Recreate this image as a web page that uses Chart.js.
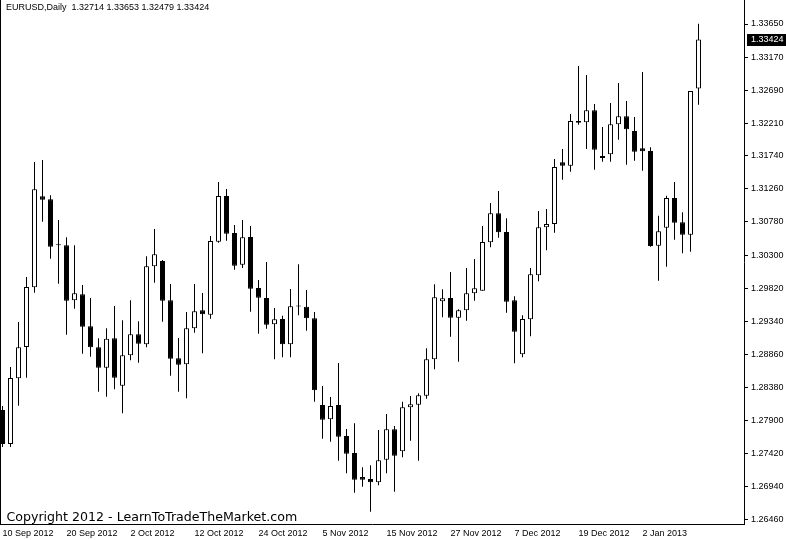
<!DOCTYPE html>
<html><head><meta charset="utf-8">
<script src="https://cdn.jsdelivr.net/npm/chart.js@4.4.1/dist/chart.umd.min.js"></script>
<style>html,body{margin:0;padding:0;background:#fff;}canvas{display:block;}</style>
</head><body>
<canvas id="c" width="786" height="540"></canvas>
<script>
const symbolName = 'EURUSD,Daily';
const copyrightText = 'Copyright 2012 - LearnToTradeTheMarket.com';

const dates = [
'2012-09-10','2012-09-11','2012-09-12','2012-09-13','2012-09-14','2012-09-17','2012-09-18','2012-09-19','2012-09-20','2012-09-21','2012-09-24','2012-09-25','2012-09-26','2012-09-27','2012-09-28',
'2012-10-01','2012-10-02','2012-10-03','2012-10-04','2012-10-05','2012-10-08','2012-10-09','2012-10-10','2012-10-11','2012-10-12','2012-10-15','2012-10-16','2012-10-17','2012-10-18','2012-10-19','2012-10-22','2012-10-23','2012-10-24','2012-10-25','2012-10-26','2012-10-29','2012-10-30','2012-10-31',
'2012-11-01','2012-11-02','2012-11-05','2012-11-06','2012-11-07','2012-11-08','2012-11-09','2012-11-12','2012-11-13','2012-11-14','2012-11-15','2012-11-16','2012-11-19','2012-11-20','2012-11-21','2012-11-22','2012-11-23','2012-11-26','2012-11-27','2012-11-28','2012-11-29','2012-11-30',
'2012-12-03','2012-12-04','2012-12-05','2012-12-06','2012-12-07','2012-12-10','2012-12-11','2012-12-12','2012-12-13','2012-12-14','2012-12-17','2012-12-18','2012-12-19','2012-12-20','2012-12-21','2012-12-24','2012-12-26','2012-12-27','2012-12-28','2012-12-31',
'2013-01-02','2013-01-03','2013-01-04','2013-01-07','2013-01-08','2013-01-09','2013-01-10','2013-01-11'
];

const xTickIndex = [0, 8, 16, 24, 32, 40, 48, 56, 64, 72, 80];
const xTickLabels = ['10 Sep 2012','20 Sep 2012','2 Oct 2012','12 Oct 2012','24 Oct 2012','5 Nov 2012','15 Nov 2012','27 Nov 2012','7 Dec 2012','19 Dec 2012','2 Jan 2013'];

const yTickValues = [1.26460,1.26940,1.27420,1.27900,1.28380,1.28860,1.29340,1.29820,1.30300,1.30780,1.31260,1.31740,1.32210,1.32690,1.33170,1.33650];

const opens = [
1.28055,1.27562,1.28514,1.28968,1.29833,1.31152,1.31109,1.30442,1.30442,1.29645,
1.29732,1.29268,1.28963,1.28668,1.29094,1.28407,1.28848,1.29152,1.29007,1.30138,
1.30215,1.29645,1.28804,1.28717,1.29239,1.29500,1.29436,1.30494,1.31157,1.30620,
1.30161,1.30562,1.29823,1.29678,1.29297,1.29374,1.29007,1.29556,1.29552,1.29384,
1.28127,1.27920,1.28127,1.27678,1.27431,1.27083,1.27054,1.27007,1.27334,1.27775,
1.27456,1.28094,1.28131,1.28262,1.28790,1.29630,1.29678,1.29393,1.29500,1.29746,
1.29784,1.30486,1.30906,1.30635,1.29645,1.28862,1.29369,1.30007,1.30703,1.30751,
1.31645,1.31596,1.32244,1.32225,1.32399,1.31737,1.31761,1.32196,1.32312,1.32099,
1.31848,1.31809,1.30436,1.30697,1.31128,1.30776,1.30596,1.32714
];
const highs = [
1.28113,1.28678,1.29330,1.29983,1.31650,1.31679,1.31167,1.30809,1.30558,1.30442,
1.29867,1.29678,1.29094,1.29239,1.29562,1.29355,1.29645,1.29340,1.30283,1.30678,
1.30229,1.29881,1.29098,1.29475,1.29881,1.29751,1.30577,1.31360,1.31258,1.30736,
1.30809,1.30722,1.29939,1.30200,1.29533,1.29422,1.29809,1.30167,1.29794,1.29475,
1.28403,1.28243,1.28736,1.27779,1.27862,1.27224,1.27253,1.27765,1.27997,1.27823,
1.28175,1.28258,1.28297,1.28949,1.29877,1.29804,1.30055,1.29514,1.30113,1.30243,
1.30722,1.31055,1.31229,1.30833,1.29703,1.29427,1.30113,1.30939,1.30968,1.31693,
1.31838,1.32345,1.33041,1.32911,1.32490,1.32157,1.32505,1.32795,1.32534,1.32302,
1.32954,1.31863,1.30871,1.31161,1.31360,1.30920,1.32679,1.33653
];
const lows = [
1.27518,1.27518,1.28117,1.28523,1.29755,1.30784,1.30248,1.29885,1.29146,1.29523,
1.28871,1.28827,1.28320,1.28247,1.28355,1.28007,1.28775,1.28740,1.28963,1.29900,
1.29335,1.28552,1.28320,1.28224,1.29175,1.28877,1.29378,1.30480,1.30509,1.30088,
1.30113,1.29480,1.29161,1.29233,1.28790,1.28819,1.28819,1.29427,1.29204,1.28175,
1.27639,1.27595,1.27320,1.27137,1.26856,1.26943,1.26580,1.26963,1.27137,1.26870,
1.27369,1.27610,1.27320,1.28218,1.28645,1.29398,1.29117,1.28755,1.29349,1.29639,
1.29784,1.30413,1.30552,1.29465,1.28732,1.28819,1.29123,1.29920,1.30370,1.30625,
1.31393,1.31509,1.32190,1.31838,1.31538,1.31654,1.31654,1.31973,1.31610,1.31668,
1.31524,1.30422,1.29929,1.30132,1.30523,1.30326,1.30349,1.32479
];
const closes = [
1.27562,1.28518,1.28963,1.29838,1.31254,1.31103,1.30422,1.30442,1.29639,1.29746,
1.29262,1.28963,1.28668,1.29088,1.28523,1.28848,1.29152,1.29016,1.30138,1.30312,
1.29639,1.28798,1.28711,1.29239,1.29485,1.29442,1.30504,1.31157,1.30610,1.30146,
1.30558,1.29813,1.29683,1.29291,1.29369,1.29007,1.29558,1.29556,1.29384,1.28340,
1.27914,1.28113,1.27668,1.27421,1.27044,1.27044,1.27007,1.27325,1.27775,1.27392,
1.28094,1.28137,1.28268,1.28790,1.29688,1.29674,1.29393,1.29500,1.29746,1.29819,
1.30490,1.30906,1.30631,1.29625,1.29190,1.29374,1.30022,1.30703,1.30751,1.31577,
1.31596,1.32244,1.32219,1.32399,1.31828,1.31708,1.32196,1.32312,1.32124,1.31799,
1.31805,1.30432,1.30645,1.31128,1.30770,1.30596,1.32679,1.33424
];

const bodyData = dates.map((d, i) => ({x: i, y: [opens[i], closes[i]]}));
const wickData = dates.map((d, i) => ({x: i, y: [lows[i], highs[i]]}));
const bodyColors = dates.map((d, i) => closes[i] >= opens[i] ? '#ffffff' : '#000000');

const last = dates.length - 1;
const headerText = symbolName + '  ' + [opens[last], highs[last], lows[last], closes[last]].map(v => v.toFixed(5)).join(' ');

const overlay = {
  id: 'overlay',
  afterDraw(chart) {
    const {ctx, chartArea, scales} = chart;
    ctx.save();
    ctx.strokeStyle = '#000';
    ctx.lineWidth = 1;
    ctx.beginPath();
    ctx.moveTo(0.5, 0);
    ctx.lineTo(0.5, chartArea.bottom);
    ctx.stroke();
    ctx.fillStyle = '#000';
    ctx.textAlign = 'left';
    ctx.textBaseline = 'middle';
    ctx.font = '9px "Liberation Sans"';
    ctx.fillText(headerText, 6, 8);
    ctx.font = '12.6px "DejaVu Sans"';
    ctx.fillText(copyrightText, 6.5, 518);
    const py = Math.round(scales.y.getPixelForValue(closes[last]));
    ctx.fillStyle = '#000';
    ctx.fillRect(747, py - 6, 39, 12);
    ctx.fillStyle = '#fff';
    ctx.font = '9px "Liberation Sans"';
    ctx.fillText(closes[last].toFixed(5), 751, py);
    ctx.restore();
  }
};

new Chart(document.getElementById('c'), {
  type: 'bar',
  data: {
    datasets: [
      {
        label: 'body',
        data: bodyData,
        backgroundColor: bodyColors,
        borderColor: '#000',
        borderWidth: 1,
        borderSkipped: false,
        barThickness: 5,
        minBarLength: 1,
        grouped: false,
        inflateAmount: 0,
        order: 0,
        clip: false
      },
      {
        label: 'wick',
        data: wickData,
        backgroundColor: '#000',
        borderWidth: 0,
        barThickness: 1,
        grouped: false,
        inflateAmount: 0,
        order: 1,
        clip: false
      }
    ]
  },
  options: {
    responsive: false,
    animation: false,
    devicePixelRatio: 1,
    layout: {padding: 0},
    plugins: {legend: {display: false}, tooltip: {enabled: false}},
    scales: {
      x: {
        type: 'linear',
        min: -0.3125,
        max: 92.6875,
        offset: false,
        grid: {display: true, offset: false, drawOnChartArea: false, drawTicks: false},
        border: {display: true, color: '#000', width: 1},
        afterBuildTicks: s => { s.ticks = xTickIndex.map(v => ({value: v})); },
        afterFit: s => { s.height = 16; s.paddingLeft = 0; s.paddingRight = 0; },
        ticks: {
          autoSkip: false, maxRotation: 0, minRotation: 0, align: 'start', padding: 4,
          color: '#000', font: {family: 'Liberation Sans', size: 9},
          callback: (v, i) => xTickLabels[i]
        }
      },
      y: {
        position: 'right',
        min: 1.26402,
        max: 1.33998,
        grid: {drawOnChartArea: false, drawTicks: true, tickLength: 4, color: '#000'},
        border: {display: true, color: '#000', width: 1},
        afterBuildTicks: s => { s.ticks = yTickValues.map(v => ({value: v})); },
        afterFit: s => { s.width = 42; s.paddingTop = 0; s.paddingBottom = 0; },
        ticks: {
          autoSkip: false, padding: 3, color: '#000',
          font: {family: 'Liberation Sans', size: 9},
          callback: v => Number(v).toFixed(5)
        }
      }
    }
  },
  plugins: [overlay]
});
</script>
</body></html>
